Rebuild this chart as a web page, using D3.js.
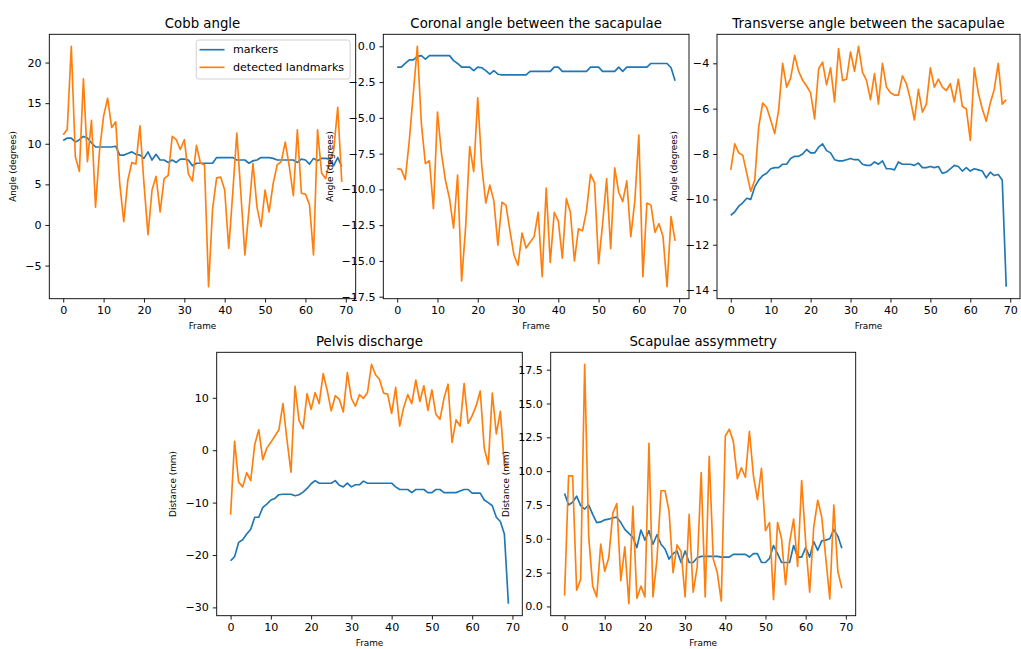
<!DOCTYPE html>
<html>
<head>
<meta charset="utf-8">
<script src="https://cdn.jsdelivr.net/npm/d3@7"></script>
<style>
  body { margin: 0; background: #fff; }
  svg { display: block; font-family: "DejaVu Sans", sans-serif; }
</style>
</head>
<body>
<div id="chart"></div>
<script>
(function () {
  "use strict";

  // x values: frame number of every sample
  var frames = d3.range(70);
  var xTicks = [0, 10, 20, 30, 40, 50, 60, 70];
  var seriesNames = ["markers", "detected landmarks"];
  var seriesColors = ["#1f77b4", "#ff7f0e"];

  // Cobb angle
  var cobbMarkers = [10.4, 10.7, 10.7, 10.2, 10.5, 10.9, 10.7, 10.1, 9.6, 9.6,
    9.6, 9.6, 9.6, 9.7, 8.6, 8.6, 8.8, 9.0, 8.7, 8.6,
    8.2, 9.0, 8.0, 8.7, 8.0, 8.0, 7.7, 8.0, 7.7, 8.1,
    8.1, 8.0, 7.3, 7.6, 7.6, 7.6, 7.6, 7.6, 8.3, 8.3,
    8.3, 8.3, 8.3, 8.0, 8.0, 8.0, 7.6, 7.9, 8.0, 8.3,
    8.3, 8.3, 8.2, 8.0, 8.0, 8.0, 8.0, 8.0, 7.7, 8.1,
    8.0, 7.5, 8.2, 7.9, 8.2, 8.2, 8.1, 7.3, 8.3, 7.2];
  var cobbLandmarks = [11.1, 11.8, 22.0, 8.4, 6.6, 18.0, 7.8, 12.9, 2.2, 9.2,
    13.4, 15.6, 12.0, 12.7, 5.1, 0.4, 5.5, 7.7, 7.5, 12.2,
    5.1, -1.2, 4.3, 6.0, 1.6, 5.7, 6.1, 10.9, 10.5, 9.3,
    10.5, 6.3, 5.4, 9.8, 7.6, 7.4, -7.6, 2.0, 5.8, 5.9,
    4.3, -2.9, 4.0, 11.3, 3.9, -3.7, 1.8, 7.6, 2.2, -0.2,
    4.3, 1.6, 5.1, 7.4, 7.8, 10.2, 7.2, 3.6, 11.7, 3.9,
    3.8, 2.5, -3.7, 11.7, 6.4, 5.7, 8.0, 9.2, 14.5, 5.3];
  var cobbTicks = [-5, 0, 5, 10, 15, 20];

  // Coronal angle between the scapulae
  var coronalMarkers = [-1.45, -1.45, -1.2, -0.95, -0.95, -0.7, -0.65, -0.9, -0.65, -0.65,
    -0.65, -0.65, -0.65, -0.65, -1.0, -1.2, -1.45, -1.45, -1.45, -1.7,
    -1.45, -1.5, -1.7, -1.95, -1.7, -1.95, -2.0, -2.0, -2.0, -2.0,
    -2.0, -2.0, -2.0, -1.75, -1.75, -1.75, -1.75, -1.75, -1.75, -1.45,
    -1.45, -1.75, -1.75, -1.75, -1.75, -1.75, -1.75, -1.75, -1.45, -1.45,
    -1.45, -1.75, -1.75, -1.75, -1.75, -1.45, -1.75, -1.45, -1.45, -1.45,
    -1.45, -1.45, -1.45, -1.2, -1.2, -1.2, -1.2, -1.2, -1.5, -2.4];
  var coronalLandmarks = [-8.55, -8.6, -9.3, -6.6, -3.3, 0.0, -5.4, -8.2, -8.0, -11.35,
    -4.6, -7.5, -9.4, -10.65, -12.7, -9.0, -16.4, -12.6, -7.0, -8.75,
    -3.6, -8.4, -10.95, -9.7, -10.8, -13.9, -10.9, -11.1, -12.9, -14.6,
    -15.3, -13.05, -14.1, -13.7, -13.3, -11.6, -16.1, -9.9, -15.1, -11.6,
    -12.2, -14.8, -10.65, -11.6, -15.0, -12.75, -12.9, -11.5, -8.95, -9.55,
    -15.2, -12.4, -9.25, -14.15, -8.5, -10.2, -10.85, -9.4, -13.3, -10.8,
    -6.2, -16.1, -10.95, -11.1, -13.0, -12.4, -13.3, -16.8, -11.9, -13.6];
  var coronalTicks = [0, -2.5, -5, -7.5, -10, -12.5, -15, -17.5];

  // Transverse angle between the scapulae
  var transverseMarkers = [-10.7, -10.55, -10.3, -10.15, -9.95, -10.0, -9.45, -9.15, -8.95, -8.85,
    -8.65, -8.6, -8.6, -8.45, -8.45, -8.2, -8.1, -8.1, -8.0, -7.8,
    -7.95, -7.95, -7.7, -7.55, -7.85, -7.95, -8.25, -8.3, -8.3, -8.25,
    -8.2, -8.25, -8.25, -8.45, -8.5, -8.5, -8.35, -8.45, -8.3, -8.65,
    -8.65, -8.7, -8.35, -8.45, -8.45, -8.45, -8.5, -8.4, -8.6, -8.6,
    -8.55, -8.6, -8.55, -8.85, -8.8, -8.65, -8.5, -8.55, -8.75, -8.6,
    -8.75, -8.65, -8.7, -8.75, -9.05, -8.8, -8.95, -8.9, -9.15, -13.85];
  var transverseLandmarks = [-8.7, -7.55, -7.95, -8.05, -8.85, -9.65, -9.15, -6.8, -5.75, -5.95,
    -6.5, -7.1, -6.05, -4.0, -5.05, -4.65, -3.65, -4.35, -4.75, -5.0,
    -5.3, -6.45, -4.25, -3.95, -4.95, -4.2, -5.7, -3.35, -4.75, -4.7,
    -3.5, -4.35, -3.25, -4.4, -4.75, -5.6, -4.45, -5.8, -4.0, -5.05,
    -5.3, -5.4, -5.4, -4.55, -4.9, -5.6, -6.5, -5.15, -6.15, -5.8,
    -4.2, -5.05, -4.7, -5.05, -5.2, -4.9, -5.7, -4.7, -5.9, -6.0,
    -7.4, -4.2, -5.3, -6.0, -6.55, -5.75, -5.15, -4.0, -5.8, -5.6];
  var transverseTicks = [-4, -6, -8, -10, -12, -14];

  // Pelvis discharge
  var pelvisMarkers = [-21.1, -20.3, -17.6, -17.1, -16.0, -15.1, -12.8, -12.8, -10.9, -10.3,
    -9.5, -9.2, -8.5, -8.4, -8.4, -8.4, -8.7, -8.5, -8.0, -7.3,
    -6.4, -5.8, -6.3, -6.3, -6.3, -6.3, -5.8, -6.7, -7.0, -6.3,
    -7.0, -6.6, -6.6, -5.9, -6.3, -6.3, -6.3, -6.3, -6.3, -6.3,
    -6.3, -7.0, -7.5, -7.5, -7.5, -8.1, -7.5, -7.5, -7.5, -8.1,
    -8.1, -7.5, -7.5, -8.1, -8.1, -8.1, -8.1, -7.8, -7.5, -7.5,
    -8.2, -8.2, -8.2, -9.5, -10.0, -10.6, -12.8, -13.6, -16.0, -29.3];
  var pelvisLandmarks = [-12.3, 1.7, -6.1, -7.0, -4.3, -5.8, 1.1, 3.9, -1.8, 0.4,
    1.5, 2.7, 3.9, 8.9, 2.0, -4.2, 12.2, 5.7, 4.1, 10.8,
    7.8, 11.0, 8.9, 14.6, 11.4, 7.5, 10.4, 9.7, 7.3, 14.8,
    9.9, 8.4, 10.6, 9.9, 11.0, 16.4, 14.4, 13.5, 10.9, 10.7,
    7.0, 12.0, 4.6, 8.2, 10.6, 8.9, 13.4, 9.3, 12.3, 7.6,
    11.5, 6.8, 5.9, 9.9, 12.6, 1.5, 5.8, 4.6, 12.7, 5.1,
    6.6, 8.5, 11.3, 0.4, -2.7, 10.9, 3.1, 7.4, -2.8, -3.2];
  var pelvisTicks = [10, 0, -10, -20, -30];

  // Scapulae asymmetry
  var asymMarkers = [8.35, 7.5, 7.7, 8.15, 7.45, 7.2, 7.5, 6.8, 6.2, 6.25,
    6.4, 6.45, 6.55, 6.6, 6.2, 5.7, 5.4, 5.1, 4.35, 5.65,
    4.9, 5.6, 4.6, 5.3, 4.6, 4.25, 3.5, 3.9, 4.1, 3.25,
    4.1, 3.25, 3.25, 3.6, 3.7, 3.7, 3.7, 3.7, 3.7, 3.65,
    3.65, 3.65, 3.85, 3.85, 3.85, 3.85, 3.65, 3.9, 3.9, 3.25,
    3.25, 3.55, 4.5, 3.9, 3.25, 3.25, 3.25, 4.5, 3.65, 3.65,
    4.35, 3.65, 4.8, 4.15, 4.85, 4.9, 5.0, 5.7, 5.2, 4.3];
  var asymLandmarks = [0.8, 9.65, 9.65, 1.2, 2.0, 17.9, 5.2, 1.5, 0.7, 4.6,
    2.6, 3.6, 6.9, 7.6, 1.9, 4.4, 0.2, 7.4, 0.6, 1.5,
    0.7, 12.05, 0.7, 3.5, 8.55, 8.55, 7.05, 2.5, 4.55, 4.05,
    0.7, 6.8, 1.05, 2.9, 9.9, 0.7, 11.1, 3.5, 2.5, 0.4,
    12.6, 13.1, 12.2, 9.45, 10.25, 9.55, 12.95, 9.65, 7.9, 10.2,
    5.6, 6.2, 0.5, 6.2, 5.0, 1.6, 4.75, 6.45, 2.95, 9.3,
    4.75, 1.05, 5.85, 7.85, 6.6, 3.6, 0.55, 7.5, 2.6, 1.35];
  var asymTicks = [0, 2.5, 5, 7.5, 10, 12.5, 15, 17.5];

  // sizes in px (matplotlib figure at ~80 dpi)
  var width = 1021, height = 649;
  var tickLen = 3.9, tickPad = 3.9;
  var tickFont = 11.1, titleFont = 13.3, labelFont = 8.9;

  var panels = [
    { title: "Cobb angle", ylabel: "Angle (degrees)", series: [cobbMarkers, cobbLandmarks],
      ticks: cobbTicks, fmt: d3.format("d"), legend: true,
      left: 49.3, top: 34.3, w: 306.4, h: 264.4 },
    { title: "Coronal angle between the sacapulae", ylabel: "Angle (degrees)", series: [coronalMarkers, coronalLandmarks],
      ticks: coronalTicks, fmt: d3.format(".1f"),
      left: 383.3, top: 34.3, w: 305.7, h: 264.4 },
    { title: "Transverse angle between the sacapulae", ylabel: "Angle (degrees)", series: [transverseMarkers, transverseLandmarks],
      ticks: transverseTicks, fmt: d3.format("d"),
      left: 717, top: 34.3, w: 303, h: 264.4 },
    { title: "Pelvis discharge", ylabel: "Distance (mm)", series: [pelvisMarkers, pelvisLandmarks],
      ticks: pelvisTicks, fmt: d3.format("d"),
      left: 216.7, top: 352.3, w: 305.6, h: 263.4 },
    { title: "Scapulae assymmetry", ylabel: "Distance (mm)", series: [asymMarkers, asymLandmarks],
      ticks: asymTicks, fmt: d3.format(".1f"),
      left: 550.7, top: 352.3, w: 305, h: 263.4 }
  ];

  var svg = d3.select("#chart").append("svg")
    .attr("width", width)
    .attr("height", height);

  // matplotlib style 5% margins around the data
  function padded(ext) {
    var m = (ext[1] - ext[0]) * 0.05;
    return [ext[0] - m, ext[1] + m];
  }

  function styleAxis(g) {
    g.attr("font-size", null).attr("font-family", null);
    g.select(".domain").remove();
    g.selectAll(".tick line").attr("stroke", "#000").attr("stroke-width", 0.9);
    g.selectAll(".tick text")
      .attr("fill", "#000")
      .style("font-size", tickFont + "px")
      .style("font-family", "'DejaVu Sans', sans-serif");
  }

  function addPanel(p, i) {
    var x = d3.scaleLinear().domain(padded(d3.extent(frames))).range([0, p.w]);
    var y = d3.scaleLinear()
      .domain(padded(d3.extent(p.series[0].concat(p.series[1]))))
      .range([p.h, 0]);

    var g = svg.append("g")
      .attr("transform", "translate(" + p.left + "," + p.top + ")");

    g.append("clipPath").attr("id", "clip-" + i)
      .append("rect").attr("width", p.w).attr("height", p.h);

    // Add the X Axis
    g.append("g")
      .attr("transform", "translate(0," + p.h + ")")
      .call(d3.axisBottom(x).tickValues(xTicks).tickSize(tickLen).tickPadding(tickPad).tickSizeOuter(0))
      .call(styleAxis);

    // Add the Y Axis
    var yg = g.append("g")
      .call(d3.axisLeft(y).tickValues(p.ticks).tickFormat(p.fmt).tickSize(tickLen).tickPadding(tickPad).tickSizeOuter(0))
      .call(styleAxis);

    // lines, markers first so the landmarks sit on top
    var line = d3.line()
      .x(function (d, j) { return x(frames[j]); })
      .y(function (d) { return y(d); });

    g.append("g").attr("clip-path", "url(#clip-" + i + ")")
      .selectAll("path")
      .data(p.series)
      .enter().append("path")
        .attr("d", line)
        .attr("fill", "none")
        .attr("stroke", function (d, j) { return seriesColors[j]; })
        .attr("stroke-width", 1.67)
        .attr("stroke-linejoin", "round");

    // spines
    g.append("rect")
      .attr("width", p.w)
      .attr("height", p.h)
      .attr("fill", "none")
      .attr("stroke", "#000")
      .attr("stroke-width", 0.9);

    // title
    g.append("text")
      .attr("x", p.w / 2)
      .attr("y", -6.7)
      .attr("text-anchor", "middle")
      .style("font-size", titleFont + "px")
      .text(p.title);

    // x label
    g.append("text")
      .attr("x", p.w / 2)
      .attr("y", p.h + 30)
      .attr("text-anchor", "middle")
      .style("font-size", labelFont + "px")
      .text("Frame");

    // y label, placed next to the widest tick label
    var maxW = d3.max(yg.selectAll(".tick text").nodes(), function (n) { return n.getComputedTextLength(); });
    g.append("text")
      .attr("transform", "translate(" + (-(tickLen + tickPad + maxW + 12)) + "," + (p.h / 2) + ") rotate(-90)")
      .attr("text-anchor", "middle")
      .attr("dominant-baseline", "central")
      .style("font-size", labelFont + "px")
      .text(p.ylabel);

    if (p.legend) addLegend(g, p);
  }

  function addLegend(g, p) {
    var lg = g.append("g");
    var box = lg.append("rect")
      .attr("fill", "#fff")
      .attr("fill-opacity", 0.8)
      .attr("stroke", "#cccccc")
      .attr("stroke-width", 0.9)
      .attr("rx", 2.5);

    var rows = lg.selectAll("g.row")
      .data(seriesNames)
      .enter().append("g")
        .attr("class", "row")
        .attr("transform", function (d, j) { return "translate(0," + (15.4 + j * 17.6) + ")"; });

    rows.append("line")
      .attr("x1", 3.3).attr("x2", 28.3)
      .attr("stroke", function (d, j) { return seriesColors[j]; })
      .attr("stroke-width", 1.67);

    var texts = rows.append("text")
      .attr("x", 36.7)
      .attr("dominant-baseline", "central")
      .style("font-size", tickFont + "px")
      .text(function (d) { return d; });

    var textW = d3.max(texts.nodes(), function (n) { return n.getComputedTextLength(); });
    var bw = 36.7 + textW + 6, bh = 39;
    box.attr("width", bw).attr("height", bh);
    lg.attr("transform", "translate(" + (p.w - 5.55 - bw) + "," + 5.7 + ")");
    rows.attr("transform", function (d, j) { return "translate(0," + (9.7 + j * 17.6) + ")"; });
  }

  panels.forEach(addPanel);
}());
</script>
</body>
</html>
